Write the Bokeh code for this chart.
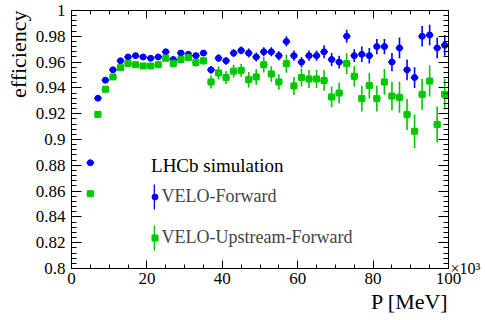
from bokeh.plotting import figure
from bokeh.models import (ColumnDataSource, LinearAxis, Range1d, SingleIntervalTicker,
                          Label, Legend, LegendItem, CustomJSTickFormatter, Title)
from bokeh.embed import file_html
from bokeh.resources import INLINE

# ---- data (momentum bin centres in units of 10^3 MeV) ----
p_bins = [5, 7, 9, 11, 13, 15, 17, 19, 21, 23, 25, 27, 29, 31, 33, 35,
          37, 39, 41, 43, 45, 47, 49, 51, 53, 55, 57, 59, 61, 63, 65, 67,
          69, 71, 73, 75, 77, 79, 81, 83, 85, 87, 89, 91, 93, 95, 97, 99]
bin_half_width = 1.0

velo_forward = [0.882, 0.932, 0.946, 0.954, 0.961, 0.964, 0.965, 0.964,
                0.963, 0.964, 0.968, 0.962, 0.967, 0.966, 0.965, 0.967,
                0.954, 0.963, 0.961, 0.967, 0.969, 0.967, 0.964, 0.968,
                0.968, 0.965, 0.976, 0.965, 0.960, 0.965, 0.965, 0.968,
                0.962, 0.960, 0.980, 0.965, 0.966, 0.965, 0.972, 0.972,
                0.960, 0.971, 0.954, 0.948, 0.980, 0.981, 0.971, 0.973]
velo_forward_err = [0.001, 0.001, 0.001, 0.001, 0.001, 0.0015, 0.0015, 0.0015,
                    0.0015, 0.0015, 0.0015, 0.002, 0.002, 0.002, 0.002, 0.002,
                    0.003, 0.003, 0.003, 0.003, 0.003, 0.0035, 0.0035, 0.0035,
                    0.0035, 0.0035, 0.004, 0.004, 0.004, 0.004, 0.004, 0.005,
                    0.005, 0.005, 0.005, 0.005, 0.006, 0.006, 0.006, 0.006,
                    0.007, 0.008, 0.008, 0.008, 0.008, 0.008, 0.008, 0.008]

velo_upstream_forward = [0.858, 0.9195, 0.939, 0.9485, 0.9557, 0.959, 0.958, 0.957,
                         0.957, 0.958, 0.963, 0.959, 0.962, 0.9635, 0.9596, 0.961,
                         0.9446, 0.9516, 0.948, 0.953, 0.9536, 0.9464, 0.9485, 0.958,
                         0.9508, 0.9446, 0.9588, 0.9415, 0.948, 0.9469, 0.9469, 0.9457,
                         0.933, 0.936, 0.9588, 0.949, 0.9317, 0.9418, 0.9317, 0.9446,
                         0.9337, 0.9327, 0.9193, 0.9064, 0.935, 0.9453, 0.9116, 0.935]
velo_upstream_forward_err = [0.0015, 0.0015, 0.0015, 0.0015, 0.0015, 0.002, 0.002, 0.002,
                             0.002, 0.002, 0.002, 0.003, 0.003, 0.003, 0.003, 0.003,
                             0.005, 0.005, 0.005, 0.005, 0.005, 0.006, 0.006, 0.006,
                             0.006, 0.006, 0.007, 0.007, 0.007, 0.007, 0.007, 0.008,
                             0.008, 0.008, 0.008, 0.008, 0.010, 0.010, 0.010, 0.010,
                             0.011, 0.012, 0.012, 0.013, 0.012, 0.012, 0.014, 0.012]

series_names = ["VELO-Forward", "VELO-Upstream-Forward"]
BLUE = "#0000ff"
GREEN = "#00c800"
SERIF = "Liberation Serif"

p = figure(width=485, height=320, x_range=Range1d(0, 100), y_range=Range1d(0.8, 1.0),
           output_backend="svg", toolbar_location=None,
           min_border_left=71, min_border_right=37, min_border_top=10, min_border_bottom=52)
p.xgrid.visible = False
p.ygrid.visible = False
p.outline_line_color = "black"
p.background_fill_color = "white"
p.border_fill_color = "white"

fmt = CustomJSTickFormatter(code="return String(parseFloat(tick.toFixed(4)));")
blank_fmt = CustomJSTickFormatter(code="return '';")
exp_fmt = CustomJSTickFormatter(code="return Math.abs(tick - 0.8) < 1e-6 ? '\u00d710\u00b3' : '';")


def style_axis(ax, xdir, formatter, standoff):
    if xdir:
        ax.ticker = SingleIntervalTicker(interval=20, num_minor_ticks=4)
        ax.major_tick_in = 8
        ax.minor_tick_in = 4
    else:
        ax.ticker = SingleIntervalTicker(interval=0.02, num_minor_ticks=5)
        ax.major_tick_in = 10
        ax.minor_tick_in = 5
    ax.major_tick_out = 0
    ax.minor_tick_out = 0
    ax.axis_line_color = "black"
    ax.major_tick_line_color = "black"
    ax.minor_tick_line_color = "black"
    ax.formatter = formatter
    ax.major_label_text_font = SERIF
    ax.major_label_text_font_size = "17px"
    ax.major_label_text_color = "black"
    ax.major_label_standoff = standoff


style_axis(p.xaxis[0], True, fmt, 4)
style_axis(p.yaxis[0], False, fmt, 6)
top = LinearAxis()
style_axis(top, True, blank_fmt, 0)
right = LinearAxis()
style_axis(right, False, exp_fmt, 2)
right.major_label_text_font_size = "16px"
right.major_label_text_baseline = "bottom"
p.add_layout(top, "above")
p.add_layout(right, "right")

# ---- axis titles ----
p.add_layout(Title(text="P [MeV]", align="right", text_font=SERIF, text_font_size="22px",
                   text_font_style="normal", text_color="black", standoff=0), "below")
p.add_layout(Title(text="efficiency", align="right", text_font=SERIF, text_font_size="22px",
                   text_font_style="normal", text_color="black", standoff=4), "left")

# ---- data marks ----
renderers = []
bars = []
for yv, ev, col, mk in [(velo_forward, velo_forward_err, BLUE, "circle"),
                        (velo_upstream_forward, velo_upstream_forward_err, GREEN, "square")]:
    src = ColumnDataSource(dict(
        x=p_bins, y=yv, h=[2 * e for e in ev],
        xl=[a - bin_half_width for a in p_bins], xr=[a + bin_half_width for a in p_bins]))
    b = p.rect(x="x", y="y", width=1.6, width_units="screen", height="h", source=src,
               fill_color=col, line_alpha=0)
    p.segment(x0="xl", y0="y", x1="xr", y1="y", source=src, line_color=col, line_width=1.5)
    r = p.scatter(x="x", y="y", source=src, marker=mk, size=6, fill_color=col, line_color=col)
    renderers.append(r)
    bars.append(b)

leg_common = dict(orientation="vertical", glyph_height=31, spacing=10, padding=0, margin=0,
                  border_line_alpha=0, background_fill_alpha=0, label_standoff=0,
                  label_text_font=SERIF, label_text_font_size="18px", label_height=31)
leg_bars = Legend(items=[LegendItem(label="", renderers=[bars[0]]),
                         LegendItem(label="", renderers=[bars[1]])],
                  location=(82, 15.5), glyph_width=2, **leg_common)
leg_marks = Legend(items=[LegendItem(label=series_names[0], renderers=[renderers[0]]),
                          LegendItem(label=series_names[1], renderers=[renderers[1]])],
                   location=(75.5, 15.5), glyph_width=15, **leg_common)
p.add_layout(leg_bars)
p.add_layout(leg_marks)

# ---- text inside frame ----
p.add_layout(Label(x=21.1, y=0.8798, text="LHCb simulation", text_align="left",
                   text_baseline="alphabetic", text_font=SERIF, text_font_size="19px",
                   text_color="black"))

open("out.html", "w").write(file_html(p, INLINE))
